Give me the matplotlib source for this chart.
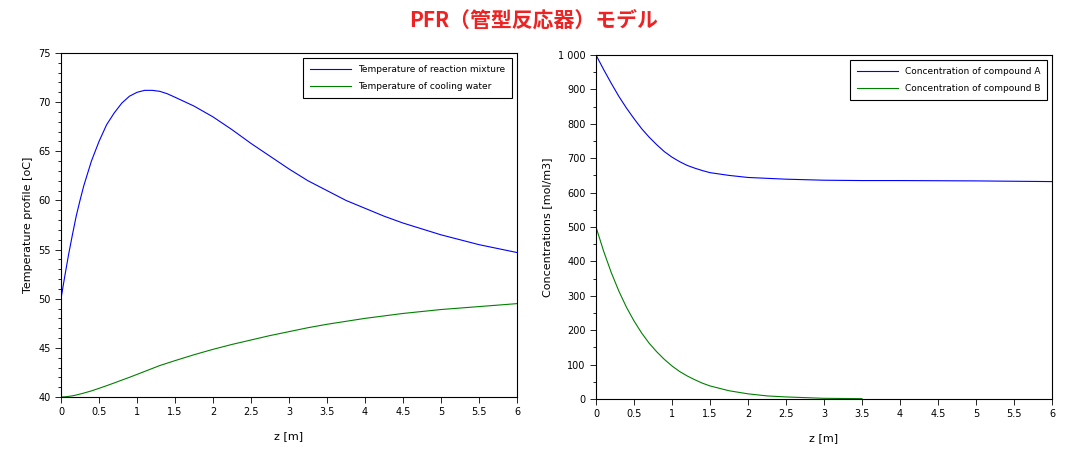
import matplotlib
matplotlib.use("Agg")
import matplotlib.pyplot as plt
from matplotlib.ticker import MultipleLocator

z1 = [0, 0.05, 0.1, 0.15, 0.2, 0.25, 0.3, 0.4, 0.5, 0.6, 0.7, 0.8, 0.9, 1.0, 1.1, 1.2, 1.3, 1.4, 1.5, 1.75, 2.0, 2.25, 2.5, 2.75, 3.0, 3.25, 3.5, 3.75, 4.0, 4.25, 4.5, 4.75, 5.0, 5.25, 5.5, 5.75, 6.0]
t_react = [50.0, 52.3, 54.5, 56.5, 58.4, 60.0, 61.5, 64.0, 66.0, 67.7, 68.9, 69.9, 70.6, 71.0, 71.2, 71.2, 71.1, 70.85, 70.5, 69.6, 68.5, 67.2, 65.8, 64.5, 63.2, 62.0, 61.0, 60.0, 59.2, 58.4, 57.7, 57.1, 56.5, 56.0, 55.5, 55.1, 54.7]
t_cool = [40.0, 40.02, 40.06, 40.12, 40.2, 40.3, 40.4, 40.62, 40.88, 41.15, 41.43, 41.72, 42.0, 42.3, 42.6, 42.9, 43.2, 43.45, 43.7, 44.3, 44.85, 45.35, 45.8, 46.25, 46.65, 47.05, 47.4, 47.7, 48.0, 48.25, 48.5, 48.7, 48.9, 49.05, 49.2, 49.35, 49.5]

z2 = [0, 0.1, 0.2, 0.3, 0.4, 0.5, 0.6, 0.7, 0.8, 0.9, 1.0, 1.1, 1.2, 1.3, 1.4, 1.5, 1.75, 2.0, 2.5, 3.0, 3.5, 4.0, 5.0, 6.0]
c_a = [1000, 958, 918, 880, 846, 815, 786, 761, 739, 719, 703, 690, 679, 671, 664, 658, 650, 644, 639, 636, 635, 635, 634, 632]
z3 = [0, 0.1, 0.2, 0.3, 0.4, 0.5, 0.6, 0.7, 0.8, 0.9, 1.0, 1.1, 1.2, 1.3, 1.4, 1.5, 1.75, 2.0, 2.25, 2.5, 3.0, 3.5]
c_b = [500, 430, 368, 314, 267, 227, 192, 162, 137, 115, 96, 80, 67, 56, 46, 38, 24, 15, 9, 6, 2, 1]

fig = plt.figure(figsize=(10.68, 4.55), dpi=100)
fig.text(0.5, 0.955, "PFR（管型反応器）モデル", ha="center", va="center", color="#ee2222",
         fontsize=15, fontweight="bold", family="Noto Sans CJK JP")

ax1 = fig.add_axes([61/1068, 1-397/455, 456/1068, 344/455])
ax2 = fig.add_axes([596/1068, 1-399/455, 456/1068, 344/455])

ax1.plot(z1, t_react, color="blue", lw=0.8, label="Temperature of reaction mixture")
ax1.plot(z1, t_cool, color="green", lw=0.8, label="Temperature of cooling water")
ax1.set_xlim(0, 6); ax1.set_ylim(40, 75)
ax1.yaxis.set_minor_locator(MultipleLocator(1))
ax1.set_ylabel("Temperature profile [oC]", fontsize=8)

ax2.plot(z2, c_a, color="blue", lw=0.8, label="Concentration of compound A")
ax2.plot(z3, c_b, color="green", lw=0.8, label="Concentration of compound B")
ax2.set_xlim(0, 6); ax2.set_ylim(0, 1000)
ax2.yaxis.set_minor_locator(MultipleLocator(50))
ax2.set_yticks(range(0, 1001, 100))
ax2.set_yticklabels([str(v) if v < 1000 else "1 000" for v in range(0, 1001, 100)])
ax2.set_ylabel("Concentrations [mol/m3]", fontsize=8)

for ax in (ax1, ax2):
    ax.xaxis.set_major_locator(MultipleLocator(0.5))
    ax.set_xlabel("z [m]", fontsize=8, labelpad=10)
    ax.tick_params(labelsize=7, length=4, width=0.6)
    ax.tick_params(which="minor", length=2, width=0.6)
    ax.xaxis.set_major_formatter(matplotlib.ticker.FuncFormatter(lambda v, p: f"{v:g}"))
    for s in ax.spines.values():
        s.set_linewidth(0.8)
    leg = ax.legend(loc="upper right", fontsize=6.5, fancybox=False, edgecolor="black",
                    framealpha=1, handlelength=4.5, borderpad=0.8, labelspacing=0.9)
    leg.get_frame().set_linewidth(0.8)

fig.savefig("out.png", dpi=100)
